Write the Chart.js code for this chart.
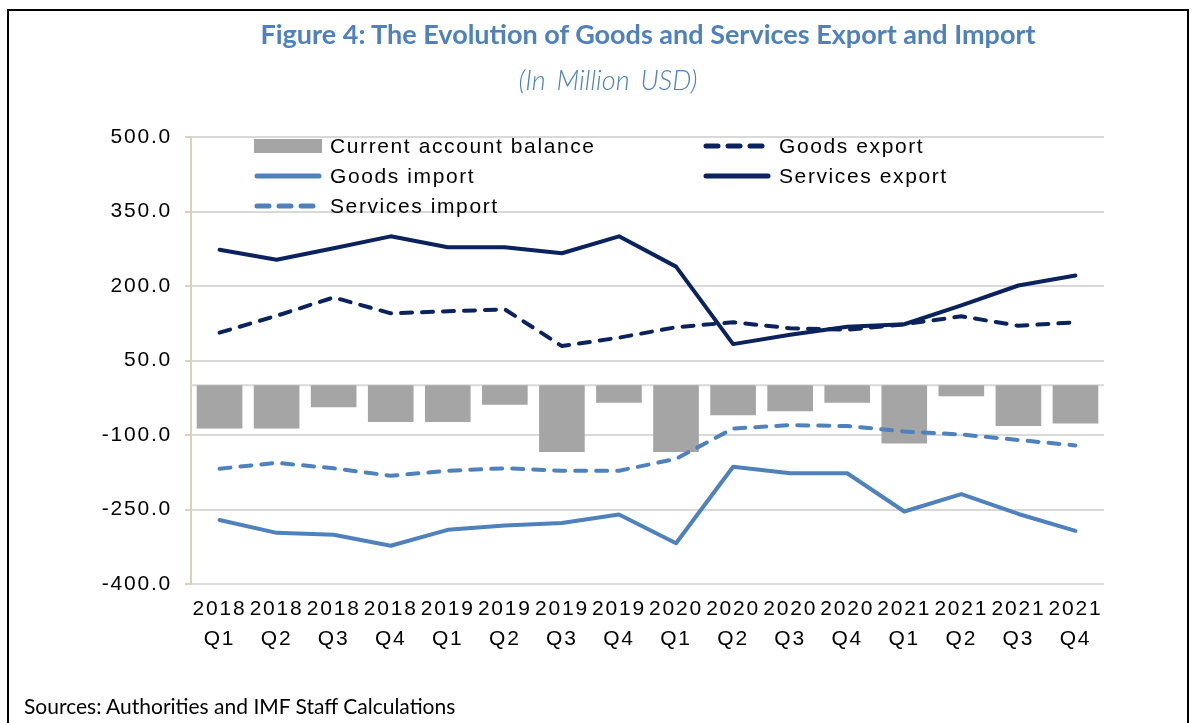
<!DOCTYPE html>
<html>
<head>
<meta charset="utf-8">
<script src="https://cdn.jsdelivr.net/npm/chart.js@4"></script>
<style>
  html, body { margin: 0; padding: 0; background: #fff; }
  #wrap { position: relative; width: 1197px; height: 723px; overflow: hidden; }
  #frame { position: absolute; left: 7px; top: 9px; width: 1182px; height: 760px; border: 2px solid #000; box-sizing: border-box; }
  canvas { position: absolute; left: 0; top: 0; }
  .title { position: absolute; left: 208px; top: 17px; width: 880px; text-align: center; font: bold 27px Lato, sans-serif; color: #4f81bd; white-space: nowrap; }
  .subtitle { position: absolute; left: 408px; top: 63px; width: 400px; text-align: center; font: italic 300 27px Lato, sans-serif; color: #4f81bd; word-spacing: 4px; }
  .source { position: absolute; left: 24px; top: 693px; font: 21px Lato, sans-serif; color: #000; white-space: nowrap; }
  #legend { position: absolute; left: 254px; top: 131px; display: grid; grid-template-columns: 449px auto; row-gap: 0; }
  .item { display: flex; align-items: center; height: 30px; font: 21px "Liberation Sans", Arial, sans-serif; color: #000; letter-spacing: 1.6px; white-space: nowrap; }
  .item svg { margin-right: 8px; flex: none; }
</style>
</head>
<body>
<div id="wrap">
  <div id="frame"></div>
  <canvas id="chart" width="1197" height="723"></canvas>
  <div class="title">Figure 4: The Evolution of Goods and Services Export and Import</div>
  <div class="subtitle">(In Million USD)</div>
  <div id="legend"></div>
  <div class="source">Sources: Authorities and IMF Staff Calculations</div>
</div>
<script>
const years = ['2018', '2018', '2018', '2018', '2019', '2019', '2019', '2019',
               '2020', '2020', '2020', '2020', '2021', '2021', '2021', '2021'];
const quarters = ['Q1', 'Q2', 'Q3', 'Q4', 'Q1', 'Q2', 'Q3', 'Q4',
                  'Q1', 'Q2', 'Q3', 'Q4', 'Q1', 'Q2', 'Q3', 'Q4'];

const currentAccount = [-87, -87, -44, -74, -74, -39, -134, -35, -134, -60, -52, -35, -117, -22, -82, -77];
const goodsExport = [106, 140, 177, 145, 149, 153, 79, 96, 117, 127, 115, 112, 123, 139, 120, 127];
const goodsImport = [-271, -297, -301, -323, -291, -282, -277, -260, -318, -164, -177, -177, -254, -219, -259, -293];
const servicesExport = [273, 253, 276, 300, 278, 278, 266, 300, 239, 83, 102, 118, 123, 161, 201, 221];
const servicesImport = [-168, -156, -167, -182, -172, -167, -172, -172, -148, -87, -80, -82, -93, -99, -110, -121];

const yTicks = [-400, -250, -100, 50, 200, 350, 500];

const navy = '#0a225e';
const lightBlue = '#4f81bd';
const gray = '#a5a5a5';

const labels = years.map((y, i) => [y, quarters[i]]);

// excel spreads the axis text out a little
const spacing = {
    id: 'spacing',
    beforeDraw(chart) { chart.ctx.letterSpacing = '1.8px'; }
};

// horizontal line at zero, where excel puts the category axis
const zeroLine = {
    id: 'zeroLine',
    beforeDatasetsDraw(chart) {
        const { ctx, chartArea, scales } = chart;
        const y = scales.y.getPixelForValue(0);
        ctx.save();
        ctx.strokeStyle = '#d9d9d9';
        ctx.lineWidth = 2;
        ctx.beginPath();
        ctx.moveTo(chartArea.left, y);
        ctx.lineTo(chartArea.right, y);
        ctx.stroke();
        ctx.restore();
    }
};

const lineSet = (label, data, color, dashed) => ({
    type: 'line',
    label: label,
    data: data,
    borderColor: color,
    backgroundColor: color,
    borderWidth: 4,
    borderDash: dashed ? [11, 10] : [],
    borderCapStyle: 'round',
    borderJoinStyle: 'round',
    pointRadius: 0,
    tension: 0,
    order: 0,
});

const ctx = document.getElementById('chart').getContext('2d');
const chart = new Chart(ctx, {
    data: {
        labels: labels,
        datasets: [
            {
                type: 'bar',
                label: 'Current account balance',
                data: currentAccount,
                backgroundColor: gray,
                categoryPercentage: 1,
                barPercentage: 0.8,
                order: 1,
            },
            lineSet('Goods export', goodsExport, navy, true),
            lineSet('Goods import', goodsImport, lightBlue, false),
            lineSet('Services export', servicesExport, navy, false),
            lineSet('Services import', servicesImport, lightBlue, true),
        ],
    },
    options: {
        responsive: false,
        animation: false,
        devicePixelRatio: 1,
        layout: {
            padding: { top: 137, right: 93, left: 0, bottom: 0 }
        },
        plugins: {
            legend: { display: false },
            tooltip: { enabled: false },
        },
        scales: {
            x: {
                grid: { display: false, drawTicks: false },
                border: { display: false },
                ticks: {
                    color: '#000',
                    padding: 11,
                    maxRotation: 0,
                    autoSkip: false,
                    font: { family: 'Liberation Sans', size: 21, lineHeight: 1.4 },
                },
                afterFit(scale) { scale.height = 723 - 584; },
            },
            y: {
                min: -400,
                max: 500,
                afterBuildTicks(scale) {
                    scale.ticks = yTicks.map(v => ({ value: v }));
                },
                grid: {
                    color: '#d9d9d9',
                    lineWidth: 2,
                    tickLength: 6,
                    tickColor: '#d8d3b8',
                },
                border: { color: '#d8d3b8', width: 2 },
                ticks: {
                    color: '#000',
                    padding: 13,
                    font: { family: 'Liberation Sans', size: 21 },
                    callback: v => v.toFixed(1),
                },
                afterFit(scale) { scale.width = 191; },
            },
        },
    },
    plugins: [spacing, zeroLine],
});

// legend in two columns
const legendEl = document.getElementById('legend');
chart.data.datasets.forEach(ds => {
    const item = document.createElement('div');
    item.className = 'item';
    let swatch;
    if (ds.type === 'bar') {
        swatch = `<svg width="68" height="14"><rect x="0" y="0" width="68" height="14" fill="${ds.backgroundColor}"/></svg>`;
    } else {
        const dash = ds.borderDash.length ? 'stroke-dasharray="12 10"' : '';
        swatch = `<svg width="68" height="8"><line x1="3" y1="4" x2="65" y2="4" stroke="${ds.borderColor}" stroke-width="5" stroke-linecap="round" ${dash}/></svg>`;
    }
    item.innerHTML = swatch + '<span>' + ds.label + '</span>';
    legendEl.appendChild(item);
});
</script>
</body>
</html>
